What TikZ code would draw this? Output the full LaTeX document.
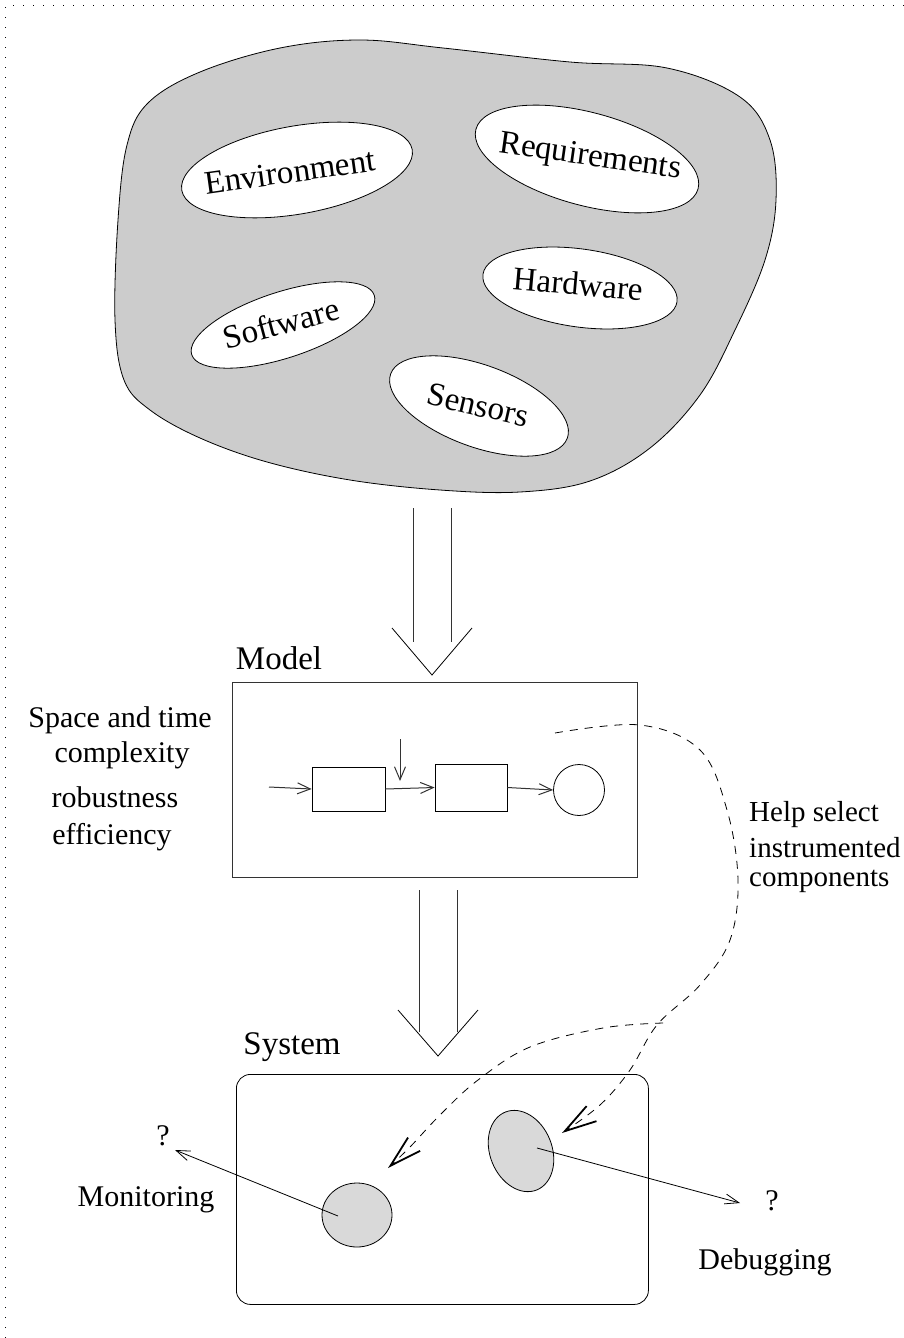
\documentclass[tikz,border=0pt]{standalone}
\usepackage{fontspec}
\setmainfont{Liberation Serif}
\usetikzlibrary{shapes.geometric,arrows.meta}
\definecolor{blobgray}{RGB}{204,204,204}
\definecolor{cellgray}{RGB}{217,217,217}
\begin{document}
\begin{tikzpicture}[x=1pt,y=-1pt,
  lbl/.style={font=\fontsize{33}{36}\selectfont, inner sep=0pt},
  txt/.style={font=\fontsize{30}{33}\selectfont, inner sep=0pt},
  helptxt/.style={font=\fontsize{29}{32}\selectfont, inner sep=0pt},
  oval/.style={ellipse, draw, fill=white, line width=0.8pt, inner sep=0pt},
  cell/.style={ellipse, draw, fill=cellgray, line width=0.8pt, inner sep=0pt},
  ln/.style={line width=0.8pt},
  boxln/.style={line width=1pt, draw=black!80},
  smallhead/.style={boxln, -{Straight Barb[length=13pt,width=11pt]}},
  bighead/.style={line width=0.8pt, dash pattern=on 8pt off 7pt, -{Straight Barb[length=32pt,width=18pt,line width=1.8pt]}},
  border/.style={line width=1pt, dash pattern=on 1pt off 9pt}
]
\useasboundingbox (0,0) rectangle (904,1338);
% dotted frame (top and left only)
\coordinate (fbl) at (5,1338);
\coordinate (ftl) at (5,6);
\coordinate (ftr) at (904,6);
\draw[border] (fbl) -- (ftl) -- (ftr);

% blob
\draw[ln, fill=blobgray] plot[smooth cycle, tension=0.6] coordinates {
 (360,40) (443,48) (570,62) (667,68) (740,97) (770,140) (776,200) (765,260)
 (735,330) (700,395) (650,448) (590,481) (520,492) (440,490) (350,480)
 (267,462) (200,438) (150,410) (124,380) (115,320) (118,220) (127,145)
 (148,103) (200,72) (280,48)};

% ellipses in blob
\node[oval, minimum width=234pt, minimum height=88pt, rotate=10] (envE) at (297,170) {};
\node[lbl, rotate=8] (envT) at (290,172) {Environment};
\node[oval, minimum width=230pt, minimum height=93pt, rotate=-15] (reqE) at (587,159) {};
\node[lbl, rotate=-8] (reqT) at (590,158) {Requirements};
\node[oval, minimum width=196pt, minimum height=78pt, rotate=-8] (hwE) at (580,288) {};
\node[lbl, rotate=-5] (hwT) at (578,284) {Hardware};
\node[oval, minimum width=192pt, minimum height=66pt, rotate=18] (swE) at (283,325) {};
\node[lbl, rotate=15] (swT) at (281,323) {Software};
\node[oval, minimum width=188pt, minimum height=82pt, rotate=-20] (seE) at (479,406) {};
\node[lbl, rotate=-13] (seT) at (478,405) {Sensors};

% double arrow 1
\coordinate (a1lt) at (413,508); \coordinate (a1lb) at (413,642);
\coordinate (a1rt) at (451,508); \coordinate (a1rb) at (451,642);
\coordinate (a1l) at (392,628); \coordinate (a1tip) at (432,675); \coordinate (a1r) at (472,628);
\draw[boxln] (a1lt) -- (a1lb);
\draw[boxln] (a1rt) -- (a1rb);
\draw[ln] (a1l) -- (a1tip) -- (a1r);

% model
\node[lbl, anchor=center] (modelT) at (279,658) {Model};
\node[draw, boxln, anchor=north west, minimum width=405pt, minimum height=195pt, inner sep=0pt] (model) at (232,682) {};
\node[draw, ln, minimum width=73pt, minimum height=44pt, inner sep=0pt] (b1) at (348.5,789) {};
\node[draw, ln, minimum width=72pt, minimum height=47pt, inner sep=0pt] (b2) at (471,787.5) {};
\node[draw, ln, circle, minimum size=51pt, inner sep=0pt] (c1) at (579,790) {};
\coordinate (inp) at (269,787);
\coordinate (vtop) at (400,739);
\coordinate (vbot) at (400,781);
\draw[smallhead] (inp) -- (b1.west);
\draw[smallhead] (b1.east) -- (b2.west);
\draw[smallhead] (vtop) -- (vbot);
\draw[smallhead] (b2.east) -- (c1.west);

% left texts
\node[txt] (t1) at (120,720) {Space and time};
\node[txt] (t2) at (122,755) {complexity};
\node[txt] (t3) at (115,797) {robustness};
\node[txt] (t4) at (112,837) {efficiency};

% help text
\node[helptxt, anchor=west] (h1) at (749,815) {Help select};
\node[helptxt, anchor=west] (h2) at (749,848) {instrumented};
\node[helptxt, anchor=west] (h3) at (749,881) {components};

% double arrow 2
\coordinate (a2lt) at (419,890); \coordinate (a2lb) at (419,1032);
\coordinate (a2rt) at (457,890); \coordinate (a2rb) at (457,1032);
\coordinate (a2l) at (398,1010); \coordinate (a2tip) at (438,1056); \coordinate (a2r) at (478,1010);
\draw[boxln] (a2lt) -- (a2lb);
\draw[boxln] (a2rt) -- (a2rb);
\draw[ln] (a2l) -- (a2tip) -- (a2r);

% system
\node[lbl] (sysT) at (292,1047) {System};
\node[draw, ln, rounded corners=14pt, anchor=north west, minimum width=412pt, minimum height=230pt, inner sep=0pt] (sys) at (236,1074) {};
\node[cell, minimum width=70pt, minimum height=64pt] (mon) at (357,1215) {};
\node[cell, minimum width=84pt, minimum height=62pt, rotate=112] (dbg) at (521,1151) {};

% monitoring / debugging
\node[txt] (q1) at (163,1136) {?};
\node[txt] (monT) at (146,1200) {Monitoring};
\coordinate (monP) at (338,1216);
\coordinate (q1tip) at (175,1150);
\draw[ln, -{Straight Barb[length=14pt,width=10pt]}] (monP) -- (q1tip);
\node[txt] (q2) at (772,1201) {?};
\node[txt] (dbgT) at (765,1262) {Debugging};
\coordinate (dbgP) at (537,1148);
\coordinate (q2tip) at (740,1203);
\draw[ln, -{Straight Barb[length=14pt,width=10pt]}] (dbgP) -- (q2tip);

% dashed help curves
\draw[bighead] plot[smooth, tension=0.6] coordinates {
 (555,733) (640,725) (700,750) (727,810) (738,880) (730,940) (700,985)
 (657,1025) (630,1070) (600,1105) (562,1133)};
\draw[bighead] plot[smooth, tension=0.6] coordinates {
 (663,1023) (603,1028) (530,1047) (478,1080) (440,1115) (410,1147) (388,1168)};
\end{tikzpicture}
\end{document}
